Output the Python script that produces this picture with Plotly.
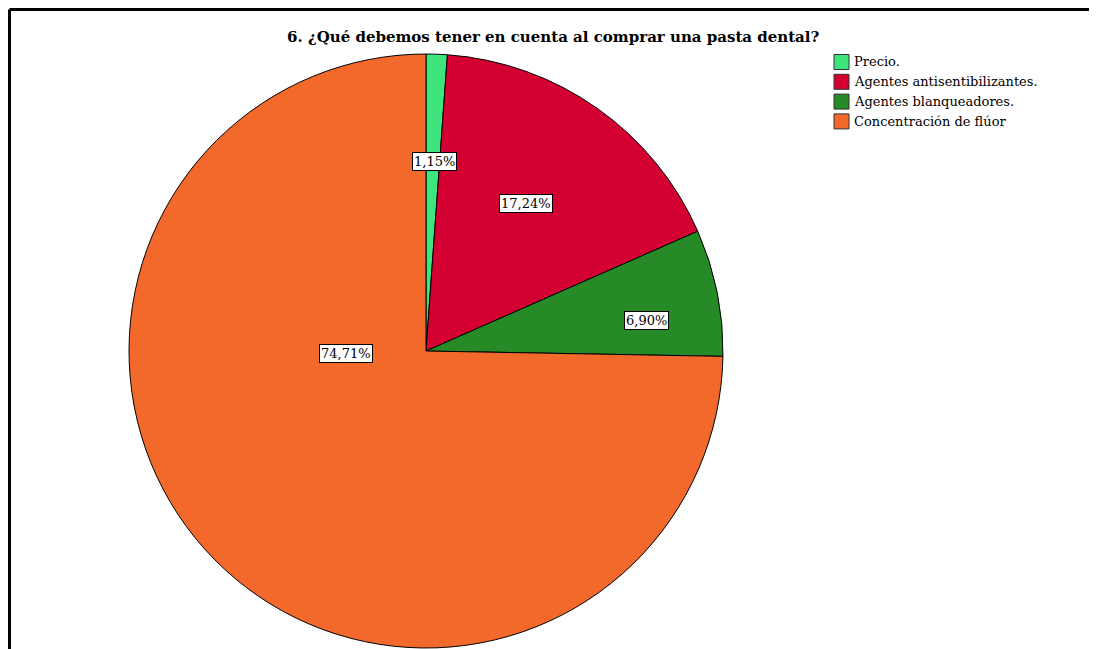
import plotly.graph_objects as go

W, H = 1097, 649
OFF = 8  # page body margin offset

categories = ["Precio.", "Agentes antisentibilizantes.", "Agentes blanqueadores.", "Concentración de flúor"]
counts = [1, 15, 6, 65]
pct_labels = ["1,15%", "17,24%", "6,90%", "74,71%"]
colors = ["#3ee57c", "#d50032", "#268a27", "#f3692b"]

# label box centres (screen pixels), style only
label_pos = [(434, 152), (526, 194), (646, 320), (319, 353)]
# legend rows (screen pixels)
leg_x0, leg_sw, leg_y0, leg_pitch = 834, 15, 62, 19.8

cx, cy, r = 426 - OFF, 351 - OFF, 297


def px(x):
    return (x - OFF) / W


def py(y):
    return 1 - (y - OFF) / H


fig = go.Figure(go.Pie(
    labels=categories,
    values=counts,
    sort=False,
    direction="clockwise",
    rotation=0,
    marker=dict(colors=colors, line=dict(color="black", width=1)),
    textinfo="none",
    hoverinfo="label+percent",
    showlegend=False,
    domain=dict(x=[(cx - r) / W, (cx + r) / W], y=[1 - (cy + r) / H, 1 - (cy - r) / H]),
))

for (lx, ly), t in zip(label_pos, pct_labels):
    fig.add_annotation(
        x=px(lx), y=py(ly), xref="paper", yref="paper",
        text=t, showarrow=False,
        font=dict(family="DejaVu Serif", size=13, color="black"),
        bgcolor="white", bordercolor="black", borderwidth=1, borderpad=1,
    )

# legend drawn manually
for i, (name, col) in enumerate(zip(categories, colors)):
    yc = leg_y0 + i * leg_pitch
    fig.add_shape(type="rect", xref="paper", yref="paper",
                  x0=px(leg_x0), x1=px(leg_x0 + leg_sw),
                  y0=py(yc - leg_sw / 2), y1=py(yc + leg_sw / 2),
                  fillcolor=col, line=dict(color="#333333", width=1))
    fig.add_annotation(x=px(leg_x0 + leg_sw + 3), y=py(yc), xref="paper", yref="paper",
                       xanchor="left", yanchor="middle", text=name, showarrow=False,
                       font=dict(family="DejaVu Serif", size=13, color="black"))

# frame
fig.add_shape(type="line", xref="paper", yref="paper", x0=px(9.5), x1=1.0, y0=py(9.5), y1=py(9.5),
              line=dict(color="black", width=3))
fig.add_shape(type="line", xref="paper", yref="paper", x0=px(9.5), x1=px(9.5), y0=0, y1=py(9.5),
              line=dict(color="black", width=3))

fig.add_annotation(
    x=px(553), y=py(37), xref="paper", yref="paper", xanchor="center", yanchor="middle",
    text="<b>6. ¿Qué debemos tener en cuenta al comprar una pasta dental?</b>", showarrow=False,
    font=dict(family="DejaVu Serif", size=15, color="black"),
)

fig.update_layout(
    width=W, height=H,
    margin=dict(l=0, r=0, t=0, b=0),
    paper_bgcolor="white",
    plot_bgcolor="white",
    showlegend=False,
)

fig.write_html("out.html")
